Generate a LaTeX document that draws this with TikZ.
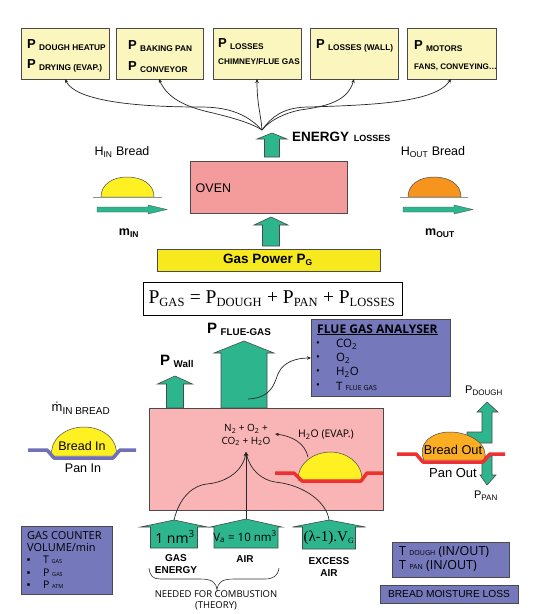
\documentclass[tikz,border=0pt]{standalone}
\usepackage{fontspec}
\setmainfont{Liberation Sans}
\newfontfamily\serifx{Liberation Serif}
\newfontfamily\comic{Open Sans}
\usetikzlibrary{arrows.meta,calc}
\definecolor{paleY}{HTML}{FBF6BE}
\definecolor{grn}{HTML}{2DB58E}
\definecolor{ovenP}{HTML}{F49C9C}
\definecolor{furnP}{HTML}{F9B5B5}
\definecolor{blu}{HTML}{7579BB}
\definecolor{yel}{HTML}{F6EA1E}
\definecolor{dome}{HTML}{FFF022}
\definecolor{orng}{HTML}{F7941D}
\definecolor{orng2}{HTML}{FBAE22}
\definecolor{red2}{HTML}{EE3030}
\definecolor{pan}{HTML}{7070B8}
\definecolor{edge}{HTML}{4A4A4A}
\newcommand{\PL}[1]{\raisebox{1.5pt}{\fontsize{13}{13}\selectfont\bfseries P}\hspace{3.2pt}{\fontsize{8.3}{9}\selectfont\bfseries #1}}
\newcommand{\SB}[1]{\textsubscript{\fontsize{8.5}{9}\selectfont #1}}
% up arrow: tip x, tip y, head half, shaft half, head base y, bottom y
\newcommand{\UpArrow}[6]{\path[greenarrow] (#1,#2) -- (#1+#3,#5) -- (#1+#4,#5) -- (#1+#4,#6) -- (#1-#4,#6) -- (#1-#4,#5) -- (#1-#3,#5) -- cycle;}
\tikzset{
  x=1pt,y=-1pt,
  greenarrow/.style={fill=grn,draw=edge,line width=0.6pt,line join=miter},
  thinarrow/.style={fill=grn,draw=edge,line width=0.3pt},
  box/.style={draw=edge,line width=0.8pt,inner sep=0pt,anchor=north west},
  lab/.style={inner sep=0pt,anchor=base west,font=\fontsize{10}{12}\selectfont},
  ctr/.style={inner sep=0pt,anchor=center,align=center,font=\fontsize{10}{12}\selectfont},
  cmc/.style={inner sep=0pt,anchor=west,align=left,font=\comic\fontsize{10}{12}\selectfont},
  conn/.style={draw=black!85,line width=0.7pt,-{Stealth[length=4pt,width=3.5pt]}},
}
\begin{document}
\begin{tikzpicture}
\useasboundingbox[fill=white] (0,0) rectangle (543,614);
% top boxes
\node[box,fill=paleY,minimum width=88pt,minimum height=51pt] (b1) at (21,28) {};
\node[box,fill=paleY,minimum width=87pt,minimum height=51pt] (b2) at (116,28) {};
\node[box,fill=paleY,minimum width=88pt,minimum height=51pt] (b3) at (213,28) {};
\node[box,fill=paleY,minimum width=88pt,minimum height=51pt] (b4) at (310,28) {};
\node[box,fill=paleY,minimum width=89pt,minimum height=51pt] (b5) at (407,28) {};
\node[lab] (t1a) at (27,50) {\PL{DOUGH HEATUP}};
\node[lab] (t1b) at (27,70) {\PL{DRYING (EVAP.)}};
\node[lab] (t2a) at (128,51) {\PL{BAKING PAN}};
\node[lab] (t2b) at (128,72) {\PL{CONVEYOR}};
\node[lab] (t3a) at (218,49) {\PL{LOSSES}};
\node[lab,font=\bfseries\fontsize{8.2}{9}\selectfont] (t3b) at (218,64) {CHIMNEY/FLUE GAS};
\node[lab] (t4a) at (316,50) {\PL{LOSSES (WALL)}};
\node[lab] (t5a) at (414,51) {\PL{MOTORS}};
\node[lab,font=\bfseries\fontsize{8.1}{9}\selectfont] (t5b) at (414,69) {FANS, CONVEYING…};
% energy arrow
\coordinate (hub) at (262,130);
\coordinate (e1) at (65,79);
\coordinate (e2) at (159,79);
\coordinate (e3) at (257,79);
\coordinate (e4) at (354,79);
\coordinate (e5) at (451,79);
\draw[conn] (hub) .. controls (245,112) and (225,107) .. (200,107) .. controls (130,107) and (75,100) .. (e1);
\draw[conn] (hub) .. controls (250,122) and (225,116) .. (213,113) .. controls (190,108) and (168,100) .. (e2);
\draw[conn] (hub) .. controls (261,115) and (257,105) .. (e3);
\draw[conn] (hub) .. controls (270,120) and (285,113) .. (300,110) .. controls (330,106) and (348,100) .. (e4);
\draw[conn] (hub) .. controls (273,115) and (285,107) .. (310,107) .. controls (370,105) and (435,103) .. (e5);
\UpArrow{272}{133}{15}{7.5}{139}{157}
\node[lab,font=\bfseries\fontsize{13.5}{14}\selectfont] (enl) at (292,141) {ENERGY\,{\fontsize{9}{10}\selectfont\ LOSSES}};
% oven
\node[box,fill=ovenP,minimum width=157pt,minimum height=52pt] (oven) at (190,161) {};
\node[lab,font=\fontsize{12.5}{14}\selectfont] (ovt) at (195.5,192) {OVEN};
\UpArrow{271}{217}{17}{8.5}{225}{246}
\node[box,fill=yel,minimum width=223pt,minimum height=22pt] (gas) at (157,249) {};
\node[ctr,font=\bfseries\fontsize{13.5}{14}\selectfont] (gast) at (268,260) {Gas Power P\SB{G}};
\node[box,draw=black,minimum width=259pt,minimum height=33pt] (form) at (143,282) {};
\node[ctr,font=\serifx\fontsize{19.5}{20}\selectfont] (formt) at (272,299) {P\textsubscript{\fontsize{12.5}{13}\selectfont GAS} = P\textsubscript{\fontsize{12.5}{13}\selectfont DOUGH} + P\textsubscript{\fontsize{12.5}{13}\selectfont PAN} + P\textsubscript{\fontsize{12.5}{13}\selectfont LOSSES}};
% bread in top
\path[fill=dome,draw=edge,line width=0.5pt] (101,197) .. controls (101,184) and (113,177) .. (127,177) .. controls (142,177) and (154,184) .. (154,197) -- cycle;
\draw[edge!60,line width=0.8pt] (93,197) -- (162,197);
\path[thinarrow] (97,207) -- (148,207) -- (148,205) -- (167,209.5) -- (148,214) -- (148,212) -- (97,212) -- cycle;
\node[ctr,font=\fontsize{12.5}{13}\selectfont] (hin) at (122,152) {H\SB{IN} Bread};
\node[ctr,font=\bfseries\fontsize{12.5}{13}\selectfont] (min) at (129,233) {m\SB{IN}};
% bread out top
\path[fill=orng,draw=edge,line width=0.5pt] (408,197) .. controls (408,184) and (420,177) .. (434,177) .. controls (449,177) and (461,184) .. (461,197) -- cycle;
\draw[edge!60,line width=0.8pt] (400,197) -- (468,197);
\path[thinarrow] (403,207) -- (454,207) -- (454,205) -- (473,209.5) -- (454,214) -- (454,212) -- (403,212) -- cycle;
\node[ctr,font=\fontsize{12.5}{13}\selectfont] (hout) at (433,152) {H\SB{OUT} Bread};
\node[ctr,font=\bfseries\fontsize{12.5}{13}\selectfont] (mout) at (440,233) {m\SB{OUT}};
% furnace
\UpArrow{175}{376}{17.5}{8.5}{384}{408}
\UpArrow{244}{341}{30}{23}{353}{408}
\node[lab] (pw) at (160,367) {\raisebox{1.5pt}{\fontsize{15}{15}\selectfont\bfseries P}\hspace{3.5pt}{\fontsize{9.8}{10}\selectfont\bfseries Wall}};
\node[lab] (pf) at (207,335) {\raisebox{1.5pt}{\fontsize{15}{15}\selectfont\bfseries P}\hspace{3.5pt}{\fontsize{9.8}{10}\selectfont\bfseries FLUE-GAS}};
\node[box,fill=furnP,minimum width=234pt,minimum height=102pt] (furn) at (149,408) {};
\node[ctr,font=\comic\fontsize{10}{12.5}\selectfont] (mix) at (246,435) {N\textsubscript{2} + O\textsubscript{2} +\\CO\textsubscript{2} + H\textsubscript{2}O};
% bread in furnace
\path[fill=dome,draw=edge,line width=0.5pt] (298,480) .. controls (298,462) and (315,452) .. (330,452) .. controls (346,452) and (362,462) .. (362,480) -- cycle;
\draw[red2,line width=3.5pt,line join=round] (275,473) -- (294,473) -- (302,481) -- (361,481) -- (367,473) -- (383,473);
\coordinate (evs) at (308,457);
\coordinate (eve) at (275,434);
\draw[conn] (evs) .. controls (305,443) and (292,436) .. (eve);
\node[ctr,font=\comic\fontsize{10.5}{12}\selectfont] (evt) at (326,435) {H\textsubscript{2}O (EVAP.)};
% bottom arrows
\UpArrow{174}{520}{33.5}{23.5}{527}{548}
\UpArrow{246}{519}{36}{32}{527}{548}
\UpArrow{329}{520}{36.5}{26.5}{527}{549}
\node[ctr,font=\comic\fontsize{14}{16}\selectfont] (a1) at (175,537) {1 nm\textsuperscript{3}};
\node[ctr,font=\comic\fontsize{11.5}{14}\selectfont] (a2) at (245,537) {V\textsubscript{a} = 10 nm\textsuperscript{3}};
\node[ctr,font=\serifx\fontsize{15}{16}\selectfont] (a3) at (329,538) {(λ-1).V\textsubscript{\fontsize{8}{9}\selectfont G}};
\coordinate (m1) at (246,452);
\coordinate (g1) at (174,520);
\coordinate (g2) at (246,519);
\coordinate (g3) at (329,520);
\draw[conn] (g1) .. controls (180,495) and (195,485) .. (207,484) .. controls (228,482) and (243,470) .. (m1);
\draw[conn] (g2) -- (m1);
\draw[conn] (g3) .. controls (327,503) and (305,485) .. (275,482) .. controls (262,480) and (250,470) .. (m1);
\coordinate (fs) at (248,399);
\node[box,fill=blu,minimum width=139pt,minimum height=77pt] (ana) at (311,319) {};
\coordinate (fe) at (311,358);
\draw[conn] (fs) .. controls (275,398) and (275,378) .. (279,372) .. controls (284,362) and (296,358) .. (fe);
\node[lab,font=\comic\bfseries\fontsize{12}{13}\selectfont] (anat) at (317,333) {\underline{FLUE GAS ANALYSER}};
\foreach \yy/\txt/\nn in {344/CO\textsubscript{2}/x1,358/O\textsubscript{2}/x2,372/H\textsubscript{2}O/x3,386/{T {\fontsize{7}{8}\selectfont FLUE GAS}}/x4}{
  \node[cmc] (\nn b) at (316,\yy) {•};
  \node[cmc,font=\comic\fontsize{11.5}{13}\selectfont] (\nn) at (336,\yy) {\txt};
}
% bread in left
\node[ctr,font=\fontsize{13}{14}\selectfont] (mbr) at (81,408) {ṁ\textsubscript{\fontsize{10}{11}\selectfont IN BREAD}};
\path[fill=dome,draw=edge,line width=0.5pt] (52,456) .. controls (49,440) and (65,427) .. (84,427) .. controls (103,427) and (119,440) .. (116,456) -- cycle;
\draw[pan,line width=3.5pt,line join=round] (28,450) -- (47,450) -- (54,458) -- (113,458) -- (120,450) -- (136,450);
\node[ctr,font=\fontsize{12.5}{13}\selectfont] (bi) at (82,446) {Bread In};
\node[ctr,font=\fontsize{12.5}{13}\selectfont] (pi) at (83,468) {Pan In};
% bread out right
\path[greenarrow] (487,402) -- (498,412) -- (492,412) -- (492,443) -- (467,443) -- (467,432) -- (482,432) -- (482,412) -- (477,412) -- cycle;
\path[greenarrow] (482,456) -- (492,456) -- (492,475) -- (496,475) -- (487,485) -- (480,475) -- (482,475) -- cycle;
\path[fill=orng2,draw=edge,line width=0.5pt] (424,460) .. controls (417,445) and (430,432) .. (450,432) .. controls (470,432) and (490,445) .. (484,460) -- cycle;
\draw[red2,line width=3.5pt,line join=round] (397,454) -- (416,454) -- (423,462) -- (483,462) -- (490,454) -- (505,454);
\node[ctr,font=\fontsize{12.8}{13}\selectfont] (bo) at (453,450) {Bread Out};
\node[ctr,font=\fontsize{13}{14}\selectfont] (po) at (453,473) {Pan Out};
\node[ctr,font=\fontsize{11}{12}\selectfont] (pd) at (484,391) {P\textsubscript{\fontsize{8}{9}\selectfont DOUGH}};
\node[ctr,font=\fontsize{11}{12}\selectfont] (pp) at (486,496) {P\textsubscript{\fontsize{8}{9}\selectfont PAN}};
% labels under arrows
\node[ctr,font=\bfseries\fontsize{10}{12}\selectfont] (ge) at (176,564) {GAS\\ENERGY};
\node[ctr,font=\bfseries\fontsize{10}{12}\selectfont] (ai) at (245,559) {AIR};
\node[ctr,font=\bfseries\fontsize{10}{12.5}\selectfont] (ex) at (329,567) {EXCESS\\AIR};
\draw[black!80,line width=0.6pt] (149,568) .. controls (150,576) and (153,579) .. (160,579) -- (200,579) .. controls (212,579) and (216,582) .. (217,590) .. controls (218,582) and (222,579) .. (234,579) -- (265,579) .. controls (273,579) and (278,576) .. (279,568);
\node[ctr,font=\comic\fontsize{9.5}{11}\selectfont] (nd) at (216,600.5) {NEEDED FOR COMBUSTION\\(THEORY)};
% gas counter
\node[box,fill=blu,minimum width=91pt,minimum height=68pt] (gc) at (21,526) {};
\node[lab,font=\comic\fontsize{11}{13}\selectfont] (gc1) at (27,539) {GAS COUNTER};
\node[lab,font=\comic\fontsize{11}{13}\selectfont] (gc2) at (27,551) {VOLUME/min};
\foreach \yy/\txt/\nn in {560/{T {\fontsize{5.5}{6}\selectfont GAS}}/y1,573/{P {\fontsize{5.5}{6}\selectfont GAS}}/y2,585/{P {\fontsize{5.5}{6}\selectfont ATM}}/y3}{
  \node[cmc,font=\fontsize{5}{6}\selectfont] (\nn b) at (27,\yy) {■};
  \node[cmc,font=\comic\fontsize{10.5}{12}\selectfont] (\nn) at (43,\yy) {\txt};
}
% right boxes
\node[box,fill=blu,minimum width=117pt,minimum height=35pt] (tb) at (392,542) {};
\node[cmc,font=\comic\fontsize{12.5}{13}\selectfont] (tb1) at (399,552) {T {\fontsize{7}{8}\selectfont DOUGH} (IN/OUT)};
\node[cmc,font=\comic\fontsize{12.5}{13}\selectfont] (tb2) at (399,566) {T {\fontsize{7}{8}\selectfont PAN} (IN/OUT)};
\node[box,fill=blu,minimum width=138pt,minimum height=18pt] (ml) at (380,585) {};
\node[ctr,font=\fontsize{10.2}{11}\selectfont] (mlt) at (449,594) {BREAD MOISTURE LOSS};
\end{tikzpicture}
\end{document}
